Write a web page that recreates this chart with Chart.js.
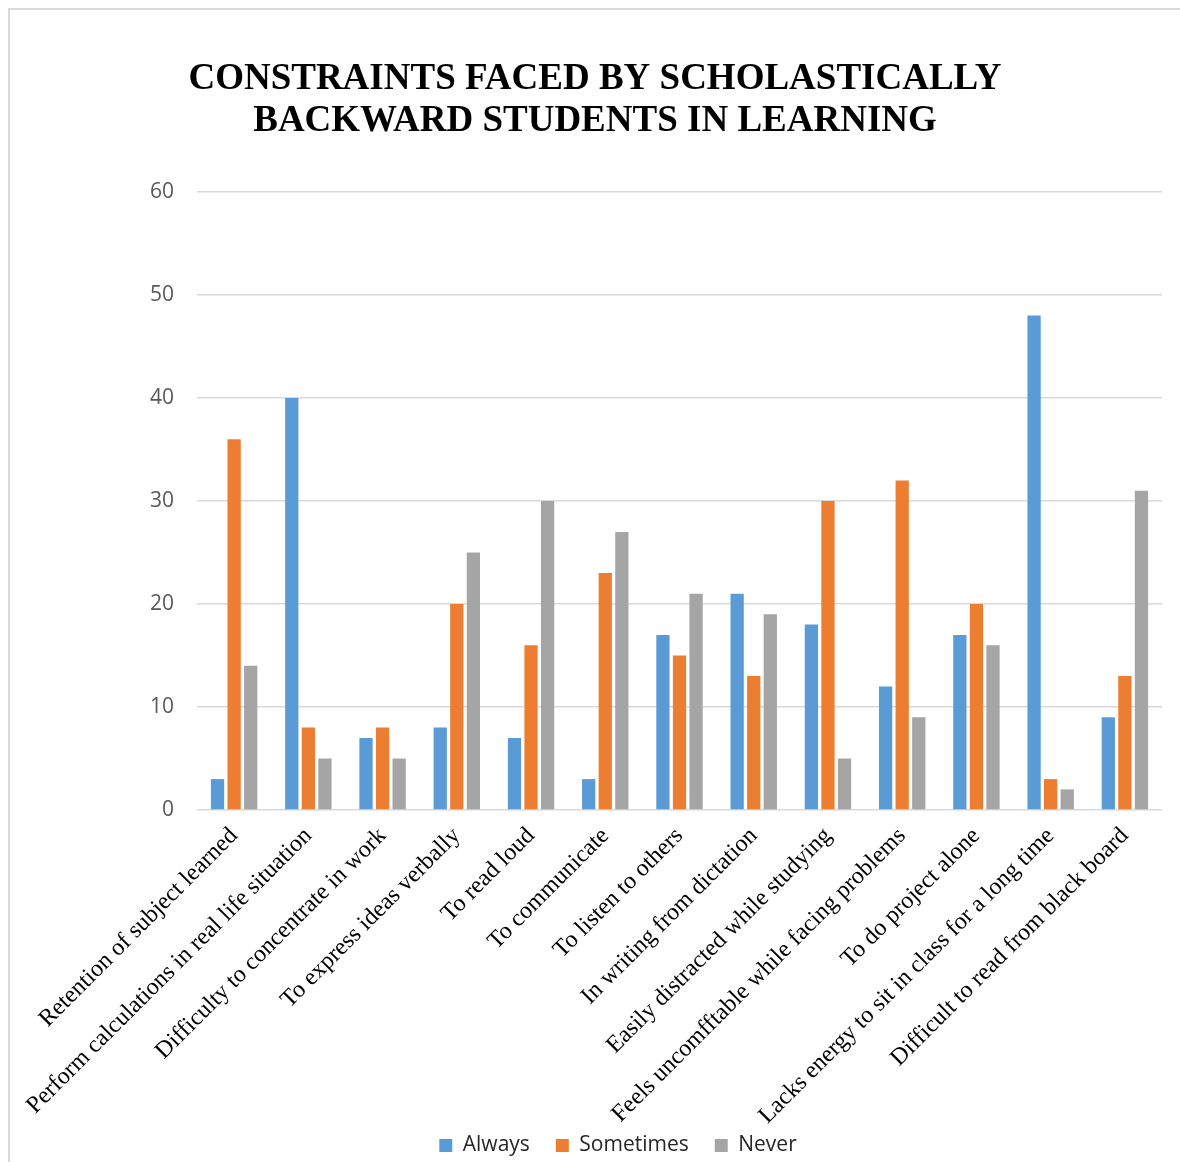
<!DOCTYPE html>
<html>
<head>
<meta charset="utf-8">
<script src="https://cdn.jsdelivr.net/npm/chart.js@4.4.1/dist/chart.umd.min.js"></script>
<style>
  html, body { margin: 0; padding: 0; background: #fff; }
  #frame { position: absolute; left: 8px; top: 8px; width: 1200px; height: 1200px; border: 2px solid #d9d9d9; box-sizing: border-box; }
  #wrap { position: absolute; left: 0; top: 0; width: 1180px; height: 1162px; }
</style>
</head>
<body>
<div id="frame"></div>
<div id="wrap"><canvas id="barChart"></canvas></div>
<script>
// chart data
var categories = [
    'Retention of subject learned',
    'Perform calculations in real life situation',
    'Difficulty to concentrate in work',
    'To express ideas verbally',
    'To read loud',
    'To communicate',
    'To listen to others',
    'In writing from dictation',
    'Easily distracted while studying',
    'Feels uncomfftable while facing problems',
    'To do project alone',
    'Lacks energy to sit in class for a long time',
    'Difficult to read from black board'
];
var always    = [3, 40, 7, 8, 7, 3, 17, 21, 18, 12, 17, 48, 9];
var sometimes = [36, 8, 8, 20, 16, 23, 15, 13, 30, 32, 20, 3, 13];
var never     = [14, 5, 5, 25, 30, 27, 21, 19, 5, 9, 16, 2, 31];
var yTicks = [0, 10, 20, 30, 40, 50, 60];
var titleLines = ['CONSTRAINTS FACED BY SCHOLASTICALLY', 'BACKWARD STUDENTS IN LEARNING'];

var labelOverlap = 43; // px the rotated labels run below the x axis box

function makeSet(label, data, color) {
    return {
        label: label,
        data: data,
        backgroundColor: color,
        borderWidth: 0,
        categoryPercentage: 0.67,
        barPercentage: 0.8
    };
}

// legend sits a bit right of the title and tight under the labels in the original
var legendShift = {
    id: 'legendShift',
    afterLayout: function(chart) {
        chart.legend.left += 23;
        chart.legend.right += 23;
        chart.legend.top += 10;
        chart.legend.bottom += 10;
        // widen the label clip area again so long labels are not cut
        chart.scales.x.bottom += labelOverlap;
    }
};

var ctx = document.getElementById('barChart').getContext('2d');
var chart = new Chart(ctx, {
    type: 'bar',
    data: {
        labels: categories,
        datasets: [
            makeSet('Always', always, '#5B9BD5'),
            makeSet('Sometimes', sometimes, '#ED7D31'),
            makeSet('Never', never, '#A5A5A5')
        ]
    },
    plugins: [legendShift],
    options: {
        responsive: true,
        maintainAspectRatio: false,
        animation: false,
        layout: { padding: { top: 58, left: 28, right: 18, bottom: 6 } },
        plugins: {
            title: {
                display: true,
                text: titleLines,
                color: '#000',
                font: { family: '"Liberation Serif", "Times New Roman", serif', size: 37, weight: 'bold', lineHeight: 1.135 },
                padding: { top: 0, bottom: 50 }
            },
            legend: {
                position: 'bottom',
                labels: {
                    boxWidth: 13,
                    boxHeight: 13,
                    color: '#262626',
                    padding: 26,
                    font: { family: '"Open Sans", sans-serif', size: 21 }
                }
            },
            tooltip: { enabled: false }
        },
        scales: {
            x: {
                grid: { display: false, drawTicks: false },
                border: { display: false },
                afterFit: function(axis) {
                    axis.height -= labelOverlap;
                },
                ticks: {
                    minRotation: 45,
                    maxRotation: 45,
                    autoSkip: false,
                    padding: 12,
                    color: '#000',
                    font: { family: '"Liberation Serif", "Times New Roman", serif', size: 24 }
                }
            },
            y: {
                min: 0,
                max: 60,
                afterBuildTicks: function(axis) {
                    axis.ticks = yTicks.map(function(v) { return { value: v }; });
                },
                afterFit: function(axis) {
                    axis.width = 169;
                },
                grid: { color: '#d9d9d9', lineWidth: 1.5, drawTicks: false },
                border: { display: false },
                ticks: {
                    padding: 23,
                    color: '#595959',
                    font: { family: '"Open Sans", sans-serif', size: 21 }
                }
            }
        }
    }
});
</script>
</body>
</html>
